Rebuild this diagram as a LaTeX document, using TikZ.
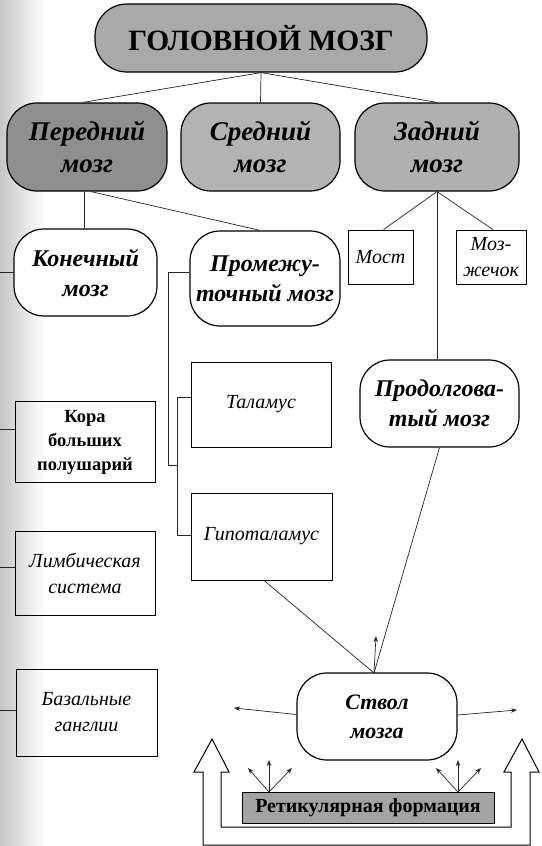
\documentclass[tikz,border=0pt]{standalone}
\usepackage{fontspec}
\setmainfont{Liberation Serif}
\usetikzlibrary{arrows.meta,calc}
\definecolor{gHead}{HTML}{A9A9A9}
\definecolor{gPered}{HTML}{8F8F8F}
\definecolor{gSred}{HTML}{B3B3B3}
\definecolor{gZad}{HTML}{B0B0B0}
\definecolor{gRet}{HTML}{A3A3A3}
\begin{document}
\begin{tikzpicture}[x=1pt,y=-1pt,
  conn/.style={draw=black!85, line width=0.7pt},
  arr/.style={conn, -{Stealth[length=6pt,width=4.5pt]}},
  rbox/.style={draw, line width=1.2pt, rounded corners=30pt, align=center, inner sep=2pt,
    font=\bfseries\itshape\fontsize{24}{30}\selectfont},
  bigbox/.style={rbox, font=\bfseries\itshape\fontsize{27}{32}\selectfont},
  ibox/.style={draw, line width=0.8pt, align=center, inner sep=2pt,
    font=\itshape\fontsize{20}{26}\selectfont},
  bbox/.style={draw, line width=0.8pt, align=center, inner sep=2pt,
    font=\bfseries\fontsize{18.5}{24}\selectfont},
  headfont/.style={font=\bfseries\fontsize{29.5}{34}\selectfont},
]
\useasboundingbox (0,0) rectangle (541,846);
\fill[white] (0,0) rectangle (541,846);
\shade[left color=black!22, right color=white] (0,0) rectangle (45,846);

% main boxes
\node[rbox, headfont, fill=gHead, minimum width=332pt, minimum height=68pt, rounded corners=32pt] (head) at (261,38) {ГОЛОВНОЙ МОЗГ};
\node[bigbox, fill=gPered, minimum width=160pt, minimum height=88pt] (pered) at (87,147) {Передний\\мозг};
\node[bigbox, fill=gSred, minimum width=159pt, minimum height=88pt] (sred) at (260.5,147) {Средний\\мозг};
\node[bigbox, fill=gZad, minimum width=164pt, minimum height=88pt] (zad) at (437,147) {Задний\\мозг};

\node[rbox, fill=white, minimum width=143pt, minimum height=87pt] (kon) at (85.5,272.5) {Конечный\\мозг};
\node[rbox, fill=white, minimum width=150pt, minimum height=95pt] (prom) at (265,278.5) {Промежу-\\точный мозг};
\node[ibox, minimum width=65pt, minimum height=54pt] (most) at (380.5,257) {Мост};
\node[ibox, minimum width=70pt, minimum height=54pt] (moz) at (491,257) {Моз-\\жечок};
\node[rbox, fill=white, minimum width=159pt, minimum height=87pt] (prod) at (439.5,403.5) {Продолгова-\\тый мозг};

\node[ibox, minimum width=140pt, minimum height=85pt] (tal) at (261,404.5) {Таламус};
\node[bbox, minimum width=140pt, minimum height=81pt] (kora) at (85,442) {Кора\\больших\\полушарий};
\node[ibox, minimum width=141pt, minimum height=87pt] (gip) at (261.5,536.5) {Гипоталамус};
\node[ibox, minimum width=140pt, minimum height=84pt] (limb) at (85,573) {Лимбическая\\система};
\node[ibox, minimum width=141pt, minimum height=87pt] (baz) at (86.5,712.5) {Базальные\\ганглии};

\node[rbox, fill=white, minimum width=160pt, minimum height=87pt,
  font=\bfseries\itshape\fontsize{22}{29}\selectfont] (stvol) at (377,716.5) {Ствол\\мозга};
\node[draw, line width=0.8pt, fill=gRet, minimum width=252pt, minimum height=31pt, inner sep=1pt,
  font=\bfseries\fontsize{20}{24}\selectfont] (ret) at (368,807.5) {Ретикулярная формация};

% connectors top
\draw[conn] (head.south) -- ([xshift=-4pt]pered.north);
\draw[conn] (head.south) -- (sred.north);
\draw[conn] (head.south) -- (zad.north);
\draw[conn] ([xshift=-3pt]pered.south) -- ([xshift=-1.5pt]kon.north);
\draw[conn] ([xshift=4pt]pered.south) -- ([xshift=-5pt]prom.north);
\draw[conn] (zad.south) -- ([xshift=3pt]most.north);
\draw[conn] (zad.south) -- ([xshift=2pt]moz.north);
\draw[conn] (zad.south) -- (zad.south |- prod.north);

% brackets for промежуточный
\coordinate (b1) at (168,272);
\coordinate (b2) at (168,465);
\coordinate (b3) at (177,465);
\coordinate (b4) at (177,397);
\coordinate (b5) at (177,535);
\draw[conn] (prom.west |- b1) -- (b1) -- (b2) -- (b3);
\draw[conn] (tal.west |- b4) -- (b4) -- (b5) -- (gip.west |- b5);

% left stubs
\coordinate (l1) at (0,272);
\coordinate (l2) at (0,429);
\coordinate (l3) at (0,567);
\coordinate (l4) at (0,710);
\draw[conn] (kon.west |- l1) -- (l1);
\draw[conn] (kora.west |- l2) -- (l2);
\draw[conn] (limb.west |- l3) -- (l3);
\draw[conn] (baz.west |- l4) -- (l4);

% to stvol
\coordinate (st) at (374,673);
\draw[conn] ([xshift=2.5pt]gip.south) -- (st);
\draw[conn] (prod.south) -- (st);
\coordinate (up) at (376,636);
\draw[arr] (st) -- (up);
\coordinate (la) at (234,708);
\coordinate (ra) at (517,710);
\draw[arr] ([yshift=2pt]stvol.west) -- (la);
\draw[arr] ([yshift=1.5pt]stvol.east) -- (ra);

% small arrows from reticular formation
\coordinate (r1) at (269,792);
\coordinate (r2) at (458,792);
\draw[arr] (r1) -- (248,768);
\draw[arr] (r1) -- (269,760);
\draw[arr] (r1) -- (292,768);
\draw[arr] (r2) -- (436,768);
\draw[arr] (r2) -- (458,760);
\draw[arr] (r2) -- (481,768);

% hollow U arrow
\draw[line width=1pt, fill=white, line join=miter]
  (203,772) -- (194,772) -- (212,739) -- (229,772) -- (221,772) -- (221,827)
  -- (511,827) -- (511,772) -- (504,772) -- (522,739) -- (539,772) -- (530,772)
  -- (530,845) -- (203,845) -- cycle;
\end{tikzpicture}
\end{document}
